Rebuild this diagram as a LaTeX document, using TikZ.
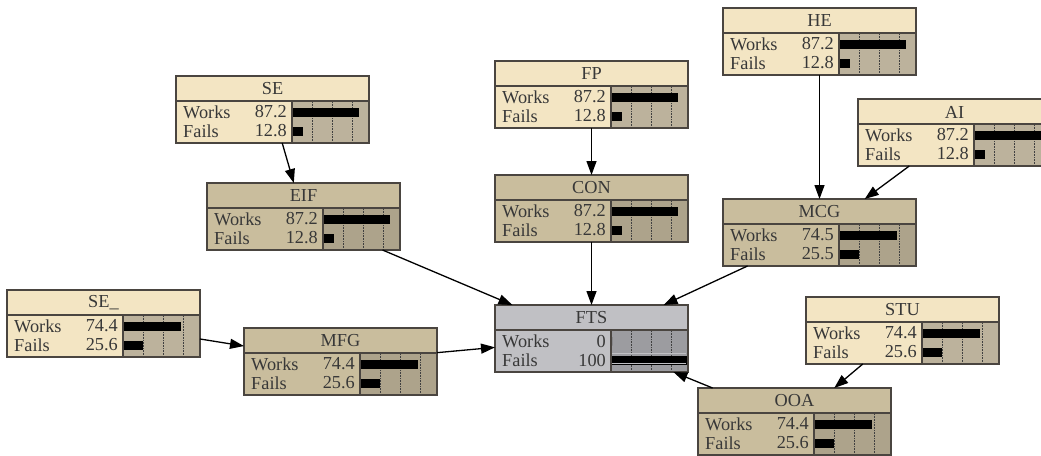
\documentclass[tikz,border=0pt]{standalone}
\usepackage{fontspec}
\setmainfont{Liberation Serif}
\usetikzlibrary{arrows.meta}
\definecolor{rootc}{HTML}{F3E5C3}
\definecolor{rootb}{HTML}{BCB29C}
\definecolor{childc}{HTML}{C9BD9D}
\definecolor{childb}{HTML}{ADA38B}
\definecolor{ftsc}{HTML}{C0C0C4}
\definecolor{ftsb}{HTML}{9C9CA0}
\definecolor{bord}{HTML}{4A4540}
\definecolor{txt}{HTML}{383838}
\tikzset{
  bbox/.style={draw=bord, line width=1.5pt, minimum width=193pt, minimum height=67pt, inner sep=0pt, outer sep=0pt, rectangle},
  bline/.style={draw=bord, line width=1.3pt},
  gridl/.style={draw=black!75, line width=0.6pt, densely dotted},
  lbl/.style={inner sep=0pt, text=txt, font=\fontsize{18.3}{20}\selectfont},
  link/.style={draw=black, line width=1.3pt, -{Triangle[length=14pt,width=10pt]}}
}
\newcommand\bnet[8]{%
  \node[bbox, fill=#7, anchor=north west] (#1) at (#2,#3) {};
  \fill[#8] (#2+116,#3+25) rectangle (#2+193,#3+67);
  \foreach \g in {20,40,60} {\draw[gridl] (#2+116+\g,#3+26) -- (#2+116+\g,#3+66);}
  \fill[black] (#2+117,#3+32) rectangle ++(#5*0.76,8.5);
  \fill[black] (#2+117,#3+51) rectangle ++(#6*0.76,8.5);
  \draw[bline] (#2,#3+25) -- (#2+193,#3+25);
  \draw[bline] (#2+116,#3+25) -- (#2+116,#3+67);
  \draw[draw=bord, line width=1.5pt] (#2,#3) rectangle (#2+193,#3+67);
  \node[lbl] at (#2+96.5,#3+13) {#4};
  \node[lbl, anchor=west] at (#2+7,#3+36) {Works};
  \node[lbl, anchor=west] at (#2+7,#3+55) {Fails};
  \node[lbl, anchor=east] at (#2+111,#3+36) {#5};
  \node[lbl, anchor=east] at (#2+111,#3+55) {#6};
}
\begin{document}
\begin{tikzpicture}[x=1pt, y=-1pt]
\clip (0,0) rectangle (1041,455);
\fill[white] (0,0) rectangle (1041,455);
\bnet{SE}{176}{76}{SE}{87.2}{12.8}{rootc}{rootb}
\bnet{EIF}{207}{183}{EIF}{87.2}{12.8}{childc}{childb}
\bnet{FP}{495}{61}{FP}{87.2}{12.8}{rootc}{rootb}
\bnet{CON}{495}{175}{CON}{87.2}{12.8}{childc}{childb}
\bnet{HE}{723}{8}{HE}{87.2}{12.8}{rootc}{rootb}
\bnet{AI}{858}{99}{AI}{87.2}{12.8}{rootc}{rootb}
\bnet{MCG}{723}{199}{MCG}{74.5}{25.5}{childc}{childb}
\bnet{SEu}{7}{290}{SE\_}{74.4}{25.6}{rootc}{rootb}
\bnet{MFG}{244}{328}{MFG}{74.4}{25.6}{childc}{childb}
\bnet{FTS}{495}{305}{FTS}{0}{100}{ftsc}{ftsb}
\draw[draw=ftsc, line width=0.8pt] (612,353) -- (686,353) (612,363) -- (686,363);
\bnet{STU}{806}{297}{STU}{74.4}{25.6}{rootc}{rootb}
\bnet{OOA}{698}{388}{OOA}{74.4}{25.6}{childc}{childb}
\draw[link] (SE) -- (EIF);
\draw[link] (FP) -- (CON);
\draw[link] (HE) -- (MCG);
\draw[link] (AI) -- (MCG);
\draw[link] (EIF) -- (FTS);
\draw[link] (CON) -- (FTS);
\draw[link] (MCG) -- (FTS);
\draw[link] (SEu) -- (MFG);
\draw[link] (MFG) -- (FTS);
\draw[link] (STU) -- (OOA);
\draw[link] (OOA) -- (FTS);
\end{tikzpicture}
\end{document}
